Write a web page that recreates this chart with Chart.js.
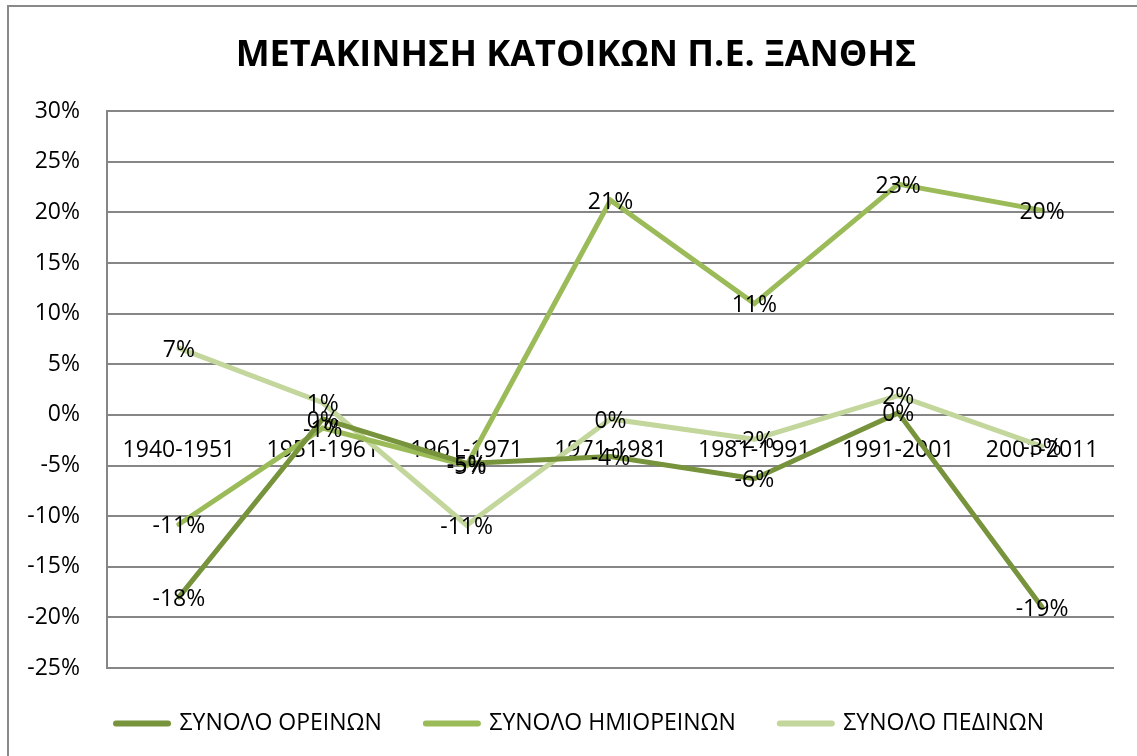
<!DOCTYPE html>
<html>
<head>
<meta charset="utf-8">
<script src="https://cdn.jsdelivr.net/npm/chart.js@4/dist/chart.umd.min.js"></script>
<style>
  html, body { margin: 0; padding: 0; background: #fff; overflow: hidden; }
  #wrap { position: relative; width: 1137px; height: 756px; }
</style>
</head>
<body>
<div id="wrap"><canvas id="chart" width="1137" height="756"></canvas></div>
<script>
const periods = ['1940-1951', '1951-1961', '1961-1971', '1971-1981', '1981-1991', '1991-2001', '2001-2011']
const oreinon = [-18, -0.4, -4.8, -4.1, -6.3, 0.2, -19]
const imioreinon = [-10.8, -1.3, -5.0, 21.2, 11.0, 22.8, 20.2]
const pedinon = [6.6, 1.2, -10.9, -0.4, -2.4, 1.9, -3.1]
const yTicks = [-25, -20, -15, -10, -5, 0, 5, 10, 15, 20, 25, 30]

const FONT = '"Open Sans"'
const SIZE = 23

// outer frame of the chart object
const frame = {
  id: 'frame',
  beforeDraw (chart) {
    const ctx = chart.ctx
    ctx.save()
    ctx.strokeStyle = '#898989'
    ctx.lineWidth = 2
    ctx.strokeRect(8, 6, 1300, 900)
    ctx.restore()
  },
  // centre title and legend over the frame rather than the canvas
  afterLayout (chart) {
    if (chart.titleBlock) {
      chart.titleBlock.left = 38
      chart.titleBlock.right = 1114
    }
    if (chart.legend) {
      chart.legend.left = 46
      chart.legend.right = 1114
    }
  }
}

// value labels centred on each point
const pointLabels = {
  id: 'pointLabels',
  afterDatasetsDraw (chart) {
    const ctx = chart.ctx
    ctx.save()
    ctx.font = SIZE + 'px ' + FONT
    ctx.fillStyle = '#000'
    ctx.textAlign = 'center'
    ctx.textBaseline = 'middle'
    chart.data.datasets.forEach((ds, i) => {
      chart.getDatasetMeta(i).data.forEach((pt, j) => {
        ctx.fillText(Math.round(ds.data[j]) + '%', pt.x, pt.y + 2)
      })
    })
    ctx.restore()
  }
}

let chart = new Chart(document.querySelector('#chart'), {
  type: 'line',
  plugins: [frame, pointLabels],
  data: {
    labels: periods,
    datasets: [
      {
        label: 'ΣΥΝΟΛΟ ΟΡΕΙΝΩΝ',
        data: oreinon,
        borderColor: '#77933C',
        backgroundColor: '#77933C'
      },
      {
        label: 'ΣΥΝΟΛΟ ΗΜΙΟΡΕΙΝΩΝ',
        data: imioreinon,
        borderColor: '#9BBB59',
        backgroundColor: '#9BBB59'
      },
      {
        label: 'ΣΥΝΟΛΟ ΠΕΔΙΝΩΝ',
        data: pedinon,
        borderColor: '#C3D69B',
        backgroundColor: '#C3D69B'
      }
    ]
  },
  options: {
    responsive: false,
    animation: false,
    elements: {
      line: { borderWidth: 5, tension: 0, borderCapStyle: 'round' },
      point: { radius: 0, hoverRadius: 0 }
    },
    layout: {
      padding: { left: 20, right: 23, top: 0, bottom: 11 }
    },
    scales: {
      x: {
        position: { y: 0 },
        offset: true,
        grid: { display: false, drawTicks: false },
        border: { display: false },
        ticks: {
          color: '#000',
          padding: 22,
          font: { family: FONT, size: SIZE }
        }
      },
      y: {
        min: -25,
        max: 30,
        afterBuildTicks (scale) {
          scale.ticks = yTicks.map(v => ({ value: v }))
        },
        afterFit (scale) {
          scale.width = 87
        },
        grid: { color: '#868686', lineWidth: 2, drawTicks: false },
        border: { color: '#868686', width: 2 },
        ticks: {
          color: '#000',
          padding: 27,
          font: { family: FONT, size: SIZE },
          callback: v => v + '%'
        }
      }
    },
    plugins: {
      title: {
        display: true,
        text: 'ΜΕΤΑΚΙΝΗΣΗ ΚΑΤΟΙΚΩΝ Π.Ε. ΞΑΝΘΗΣ',
        color: '#000',
        font: { family: FONT, size: 36, weight: 'bold' },
        padding: { top: 34, bottom: 34 }
      },
      legend: {
        position: 'bottom',
        labels: {
          color: '#000',
          usePointStyle: true,
          pointStyle: 'line',
          pointStyleWidth: 52,
          padding: 44,
          font: { family: FONT, size: SIZE },
          generateLabels (chart) {
            return Chart.defaults.plugins.legend.labels.generateLabels(chart).map((item, i) => ({
              ...item,
              strokeStyle: chart.data.datasets[i].borderColor,
              lineWidth: 6,
              lineCap: 'round'
            }))
          }
        }
      },
      tooltip: { enabled: false }
    }
  }
})
</script>
</body>
</html>
